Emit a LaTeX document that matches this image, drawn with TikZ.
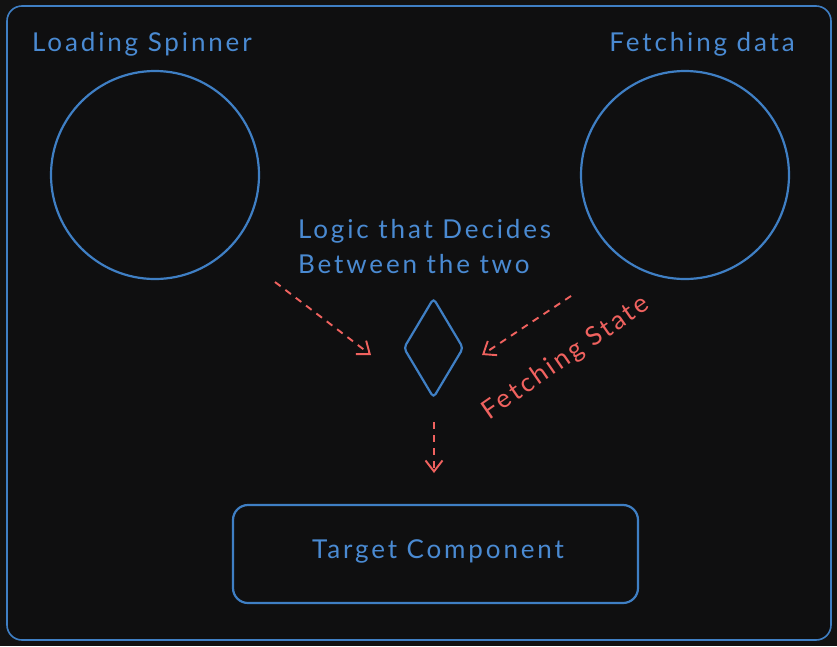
\documentclass[tikz,border=0pt]{standalone}
\usepackage{fontspec}
\setmainfont{Lato}[LetterSpace=11]
\usetikzlibrary{arrows.meta,shapes.geometric}
\definecolor{bgc}{HTML}{121212}
\definecolor{innerc}{HTML}{0F0F10}
\definecolor{bluec}{HTML}{3F7FC4}
\definecolor{textblue}{HTML}{4A8AD2}
\definecolor{redc}{HTML}{F0625F}
\tikzset{
  outl/.style={draw=bluec, line width=2.2pt},
  lbl/.style={text=textblue, font=\fontsize{26}{30}\selectfont, inner sep=0pt},
  redarrow/.style={draw=redc, line width=1.9pt, dash pattern=on 7pt off 6pt,
    -{Straight Barb[length=11pt,width=17pt,line width=1.9pt]}},
}
\begin{document}
\begin{tikzpicture}[x=1pt,y=-1pt]
\fill[bgc] (0,0) rectangle (837,646);
\useasboundingbox (0,0) rectangle (837,646);
\draw[outl, fill=innerc, line width=1.6pt, rounded corners=15pt] (7,6) rectangle (831,640);

\node[circle, outl, minimum size=208pt, inner sep=0pt] (spin) at (155,175) {};
\node[circle, outl, minimum size=208pt, inner sep=0pt] (fetch) at (685,175) {};

\node[lbl, anchor=base west] (spinlbl) at (32,51) {Loading Spinner};
\node[lbl, anchor=base east] (fetchlbl) at (795,51) {Fetching data};

\node[lbl, anchor=base west, align=left] (logic) at (298,238) {Logic that Decides};
\node[lbl, anchor=base west, align=left] (logic2) at (298,273) {Between the two};

\node[diamond, outl, rounded corners=4pt, minimum width=60pt, minimum height=100pt, inner sep=0pt, aspect=0.6] (dec) at (433.5,348) {};

\coordinate (a1s) at (275,282);
\coordinate (a1e) at (371,355);
\coordinate (a2s) at (571,296);
\coordinate (a2e) at (482,355);
\coordinate (a3s) at (434,422);
\coordinate (a3e) at (434,473);
\draw[redarrow] (a1s) -- (a1e);
\draw[redarrow] (a2s) -- (a2e);
\draw[redarrow] (a3s) -- (a3e);

\node[text=redc, font=\fontsize{26}{30}\selectfont, inner sep=0pt, rotate=34.8] (fs) at (566,358) {Fetching State};

\node[outl, rounded corners=15pt, minimum width=405pt, minimum height=98pt, inner sep=0pt] (target) at (435.5,554) {};
\node[lbl] (targetlbl) at (438,551) {Target Component};
\end{tikzpicture}
\end{document}
